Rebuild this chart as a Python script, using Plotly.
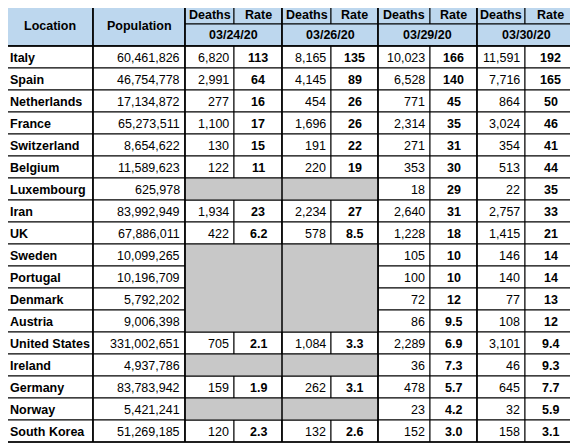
import plotly.graph_objects as go

locations = ["Italy","Spain","Netherlands","France","Switzerland","Belgium","Luxembourg","Iran","UK",
             "Sweden","Portugal","Denmark","Austria","United States","Ireland","Germany","Norway","South Korea"]
population = ["60,461,826","46,754,778","17,134,872","65,273,511","8,654,622","11,589,623","625,978",
              "83,992,949","67,886,011","10,099,265","10,196,709","5,792,202","9,006,398","331,002,651",
              "4,937,786","83,783,942","5,421,241","51,269,185"]
dates = ["03/24/20","03/26/20","03/29/20","03/30/20"]
d0324 = ["6,820","2,991","277","1,100","130","122",None,"1,934","422",None,None,None,None,"705",None,"159",None,"120"]
r0324 = ["113","64","16","17","15","11",None,"23","6.2",None,None,None,None,"2.1",None,"1.9",None,"2.3"]
d0326 = ["8,165","4,145","454","1,696","191","220",None,"2,234","578",None,None,None,None,"1,084",None,"262",None,"132"]
r0326 = ["135","89","26","26","22","19",None,"27","8.5",None,None,None,None,"3.3",None,"3.1",None,"2.6"]
d0329 = ["10,023","6,528","771","2,314","271","353","18","2,640","1,228","105","100","72","86","2,289","36","478","23","152"]
r0329 = ["166","140","45","35","31","30","29","31","18","10","10","12","9.5","6.9","7.3","5.7","4.2","3.0"]
d0330 = ["11,591","7,716","864","3,024","354","513","22","2,757","1,415","146","140","77","108","3,101","46","645","32","158"]
r0330 = ["192","165","50","46","41","44","35","33","21","14","14","13","12","9.4","9.3","7.7","5.9","3.1"]

xs = [6, 93, 185, 234, 282, 331, 378, 430, 477, 525, 576]
y0, y1, y2 = 5, 24, 46
rh = 22
n = len(locations)
ybot = y2 + rh * n
FONT = "Liberation Sans"
HDR = "#BDD7EE"
GRAY = "#C8C8C8"
OFF = 8  # page body margin

shapes, ann = [], []
def rect(xa, ya, xb, yb, fill, w=1):
    shapes.append(dict(type="rect", x0=xa, x1=xb, y0=ya, y1=yb, fillcolor=fill,
                       line=dict(color="black", width=w), layer="below"))
def text(x, y, s, anchor="center", bold=False, size=12.5):
    ann.append(dict(x=x, y=y, text=("<b>%s</b>" % s) if bold else s, showarrow=False,
                    xanchor=anchor, yanchor="middle", font=dict(family=FONT, size=size, color="black")))

rect(xs[0], y0, xs[1], y2, HDR)
rect(xs[1], y0, xs[2], y2, HDR)
text((xs[0]+xs[1])/2, (y0+y2)/2, "Location", bold=True)
text((xs[1]+xs[2])/2, (y0+y2)/2, "Population", bold=True)
for i, d in enumerate(dates):
    a, b, c = xs[2+2*i], xs[3+2*i], xs[4+2*i]
    rect(a, y0, b, y1, HDR); rect(b, y0, c, y1, HDR); rect(a, y1, c, y2, HDR)
    text((a+b)/2, (y0+y1)/2, "Deaths", bold=True)
    text((b+c)/2, (y0+y1)/2, "Rate", bold=True)
    text((a+c)/2, (y1+y2)/2, d, bold=True)

series = [(d0324, r0324), (d0326, r0326), (d0329, r0329), (d0330, r0330)]
for r in range(n):
    ya, yb = y2 + r*rh, y2 + (r+1)*rh
    ym = (ya+yb)/2 + 1
    rect(xs[0], ya, xs[1], yb, "white"); rect(xs[1], ya, xs[2], yb, "white")
    text(xs[0]+2, ym, locations[r], anchor="left", bold=True)
    text(xs[2]-3, ym, population[r], anchor="right")
    for i, (dv, rv) in enumerate(series):
        a, b, c = xs[2+2*i], xs[3+2*i], xs[4+2*i]
        if dv[r] is None:
            continue
        rect(a, ya, b, yb, "white"); rect(b, ya, c, yb, "white")
        text(b-3, ym, dv[r], anchor="right")
        text((b+c)/2, ym, rv[r], bold=True)

r = 0
while r < n:
    if d0324[r] is None:
        s = r
        while r < n and d0324[r] is None:
            r += 1
        rect(xs[2], y2 + s*rh, xs[6], y2 + r*rh, GRAY)
    else:
        r += 1

for xv in [xs[0], xs[1], xs[2], xs[4], xs[6], xs[8], xs[10]]:
    shapes.append(dict(type="line", x0=xv, x1=xv, y0=y0, y1=ybot, line=dict(color="black", width=1.5)))
for yv in [y0, y2, ybot]:
    shapes.append(dict(type="line", x0=xs[0], x1=xs[-1], y0=yv, y1=yv, line=dict(color="black", width=1.5)))

fig = go.Figure()
fig.update_layout(width=578-OFF, height=444-OFF, margin=dict(l=0, r=0, t=0, b=0),
                  plot_bgcolor="white", paper_bgcolor="white", shapes=shapes, annotations=ann,
                  xaxis=dict(range=[OFF, 578], visible=False, fixedrange=True),
                  yaxis=dict(range=[444, OFF], visible=False, fixedrange=True), showlegend=False)
fig.write_html("out.html", config={"displayModeBar": False})
